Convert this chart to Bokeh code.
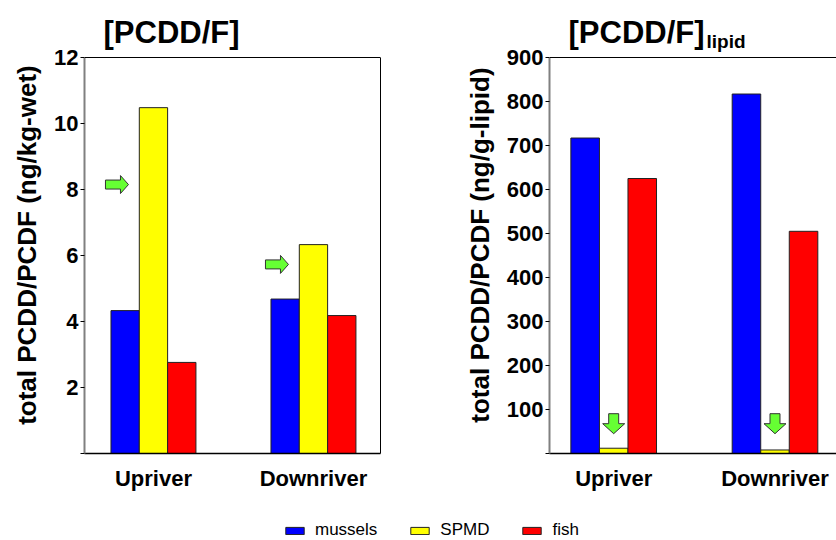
from bokeh.plotting import figure
from bokeh.models import (ColumnDataSource, Range1d, FixedTicker, LinearAxis,
                          Legend, LegendItem, Span)
from bokeh.core.properties import value
from bokeh.layouts import column, row
from bokeh.embed import file_html
from bokeh.resources import INLINE

# ---------------- data ----------------
sites = ["Upriver", "Downriver"]
series = ["mussels", "SPMD", "fish"]
colors = ["#0000ff", "#ffff00", "#ff0000"]

wet_mussels = [4.33, 4.68]
wet_spmd = [10.48, 6.33]
wet_fish = [2.76, 4.18]

lipid_mussels = [717, 817]
lipid_spmd = [12, 8]
lipid_fish = [625, 505]

wet_ticks = [0, 2, 4, 6, 8, 10, 12]
lipid_ticks = [0, 100, 200, 300, 400, 500, 600, 700, 800, 900]

# green arrow annotations (value pointed at)
wet_arrow_y = [8.15, 5.73]      # horizontal arrows pointing at SPMD bars
lipid_arrow_tip = [45, 45]      # downward arrows pointing at SPMD bars

titles = ["[PCDD/F]", "[PCDD/F]"]
title_sub = "lipid"
ylabels = ["total PCDD/PCDF (ng/kg-wet)", "total PCDD/PCDF (ng/g-lipid)"]

FONT = "Liberation Sans"
BAR_W = 0.177
ARROW_FILL = "#66ff33"
ARROW_LINE = "#333333"
LABEL_PAD = "\u00a0" * 5   # keeps the rotated axis title centred on the value axis

TOTAL_W = 836
AXIS_TOP_PX = 57      # page y of the top of the value axis
FRAME_H = 453         # frame reaches the top of the page (titles live inside)
AXIS_H = FRAME_H - AXIS_TOP_PX
BOT_B = 52
LEG_H = 540 - FRAME_H - BOT_B


def make_panel(width, mb_left, mb_right, xr, ymax, ticks, ylabel, vals):
    sy = AXIS_H / ymax
    p = figure(width=width, height=FRAME_H + BOT_B, toolbar_location=None,
               output_backend="svg", x_range=Range1d(*xr),
               y_range=Range1d(0, FRAME_H / sy),
               min_border_left=mb_left, min_border_right=mb_right,
               min_border_top=0, min_border_bottom=BOT_B,
               background_fill_color="white", border_fill_color="white",
               outline_line_color=None)
    p.grid.visible = False
    pos = [i + 1 for i in range(len(sites))]
    for k, (name, c, v) in enumerate(zip(series, colors, vals)):
        src = ColumnDataSource(dict(x=[q + (k - 1) * BAR_W for q in pos], top=v))
        p.vbar(x="x", top="top", bottom=0, width=BAR_W, source=src,
               fill_color=c, line_color="#222222", line_width=1)
    xa = p.xaxis[0]
    xa.ticker = FixedTicker(ticks=pos)
    xa.major_label_overrides = {q: s for q, s in zip(pos, sites)}
    xa.major_tick_line_color = None
    xa.minor_tick_line_color = None
    xa.axis_line_color = "black"
    xa.axis_line_width = 1.5
    xa.major_label_text_font = FONT
    xa.major_label_text_font_style = "bold"
    xa.major_label_text_font_size = "22px"
    xa.major_label_text_color = "black"
    xa.major_label_standoff = 6
    ya = p.yaxis[0]
    ya.bounds = (0, ymax)
    ya.ticker = FixedTicker(ticks=ticks)
    ya.major_label_overrides = {0: ""}
    ya.minor_tick_line_color = None
    ya.major_tick_out = 4
    ya.major_tick_in = 0
    ya.major_tick_line_color = "black"
    ya.axis_line_color = "#808080"
    ya.axis_line_width = 2
    ya.major_label_text_font = FONT
    ya.major_label_text_font_style = "bold"
    ya.major_label_text_font_size = "22px"
    ya.major_label_text_color = "black"
    ya.major_label_standoff = 2
    ya.axis_label = ylabel + LABEL_PAD
    ya.axis_label_text_font = FONT
    ya.axis_label_text_font_style = "bold"
    ya.axis_label_text_font_size = "26px"
    ya.axis_label_text_color = "black"
    ya.axis_label_standoff = 9
    # top border of the plotting box
    p.add_layout(Span(location=ymax, dimension="width", line_color="black",
                      line_width=1))
    return p, pos, sy


def px_to_data(px, py, frame_left, xr, sx, sy):
    return xr[0] + (px - frame_left) / sx, (FRAME_H - py) / sy


# ---------------- left panel ----------------
W1 = 440
W2 = TOTAL_W - W1
L1 = 84
XR1 = (0.569, 2.419)
p1, pos, sy1 = make_panel(W1, L1, 60, XR1, 12, wet_ticks, ylabels[0],
                          [wet_mussels, wet_spmd, wet_fish])
p1.add_layout(LinearAxis(ticker=FixedTicker(ticks=[]), bounds=(0, 12),
                         axis_line_color="black", axis_line_width=1,
                         major_tick_line_color=None, major_tick_out=0,
                         minor_tick_line_color=None, major_label_standoff=0,
                         major_label_text_font_size="0px"), "right")

fw1 = W1 - L1 - 60
sx1 = fw1 / (XR1[1] - XR1[0])
xs, ys = [], []
for q, yv in zip(pos, wet_arrow_y):
    tx = q * sx1 - 25  # arrow tip, px
    ty = yv * sy1
    L, hl, s, hh = 23, 8, 4.5, 9
    ptsx = [tx - L, tx - hl, tx - hl, tx, tx - hl, tx - hl, tx - L]
    ptsy = [ty - s, ty - s, ty - hh, ty, ty + hh, ty + s, ty + s]
    xs.append([v / sx1 for v in ptsx])
    ys.append([v / sy1 for v in ptsy])
p1.patches(xs, ys, fill_color=ARROW_FILL, line_color=ARROW_LINE, line_width=1)

tx1, ty1 = px_to_data(103, 31.5, L1, XR1, sx1, sy1)
p1.text(x=[tx1], y=[ty1], text=[titles[0]], text_font=value(FONT),
        text_font_style="bold", text_font_size="31px", text_color="black",
        text_baseline="middle", text_align="left")

# ---------------- right panel ----------------
L2 = 109
fw2 = W2 - L2
XR2 = (0.602, 0.602 + fw2 / 161.3)
p2, pos2, sy2 = make_panel(W2, L2, 0, XR2, 900, lipid_ticks, ylabels[1],
                           [lipid_mussels, lipid_spmd, lipid_fish])
sx2 = fw2 / (XR2[1] - XR2[0])
xs, ys = [], []
for q, tv in zip(pos2, lipid_arrow_tip):
    cx = q * sx2
    ty = tv * sy2
    L, hl, s, hw = 20, 10, 5, 11
    ptsx = [cx - s, cx + s, cx + s, cx + hw, cx, cx - hw, cx - s]
    ptsy = [ty + L, ty + L, ty + hl, ty + hl, ty, ty + hl, ty + hl]
    xs.append([v / sx2 for v in ptsx])
    ys.append([v / sy2 for v in ptsy])
p2.patches(xs, ys, fill_color=ARROW_FILL, line_color=ARROW_LINE, line_width=1)

tx2, ty2 = px_to_data(568 - 440, 31.5, L2, XR2, sx2, sy2)
p2.text(x=[tx2], y=[ty2], text=[titles[1]], text_font=value(FONT),
        text_font_style="bold", text_font_size="31px", text_color="black",
        text_baseline="middle", text_align="left")
tx3, ty3 = px_to_data(706 - 440, 40.5, L2, XR2, sx2, sy2)
p2.text(x=[tx3], y=[ty3], text=[title_sub], text_font=value(FONT),
        text_font_style="bold", text_font_size="19px", text_color="black",
        text_baseline="middle", text_align="left")

# ---------------- legend ----------------
leg = figure(width=TOTAL_W, height=LEG_H, toolbar_location=None, output_backend="svg",
             x_axis_location=None, y_axis_location=None, min_border=0,
             outline_line_color=None, x_range=Range1d(0, 1), y_range=Range1d(0, 1))
leg.grid.visible = False
items = []
for name, c in zip(series, colors):
    r = leg.vbar(x=[0.5], top=[-5], bottom=[-6], width=0.1, fill_color=c,
                 line_color="#222222")
    items.append(LegendItem(label=name, renderers=[r]))
legend = Legend(items=items, orientation="horizontal", location=(283, 0),
                glyph_width=23, glyph_height=9, label_standoff=9, spacing=31,
                padding=0, margin=0, border_line_color=None, background_fill_alpha=0,
                label_text_font=FONT, label_text_font_size="17px",
                label_text_color="black")
leg.add_layout(legend, "center")

layout = column(row(p1, p2), leg)
open("out.html", "w").write(file_html(layout, INLINE))
